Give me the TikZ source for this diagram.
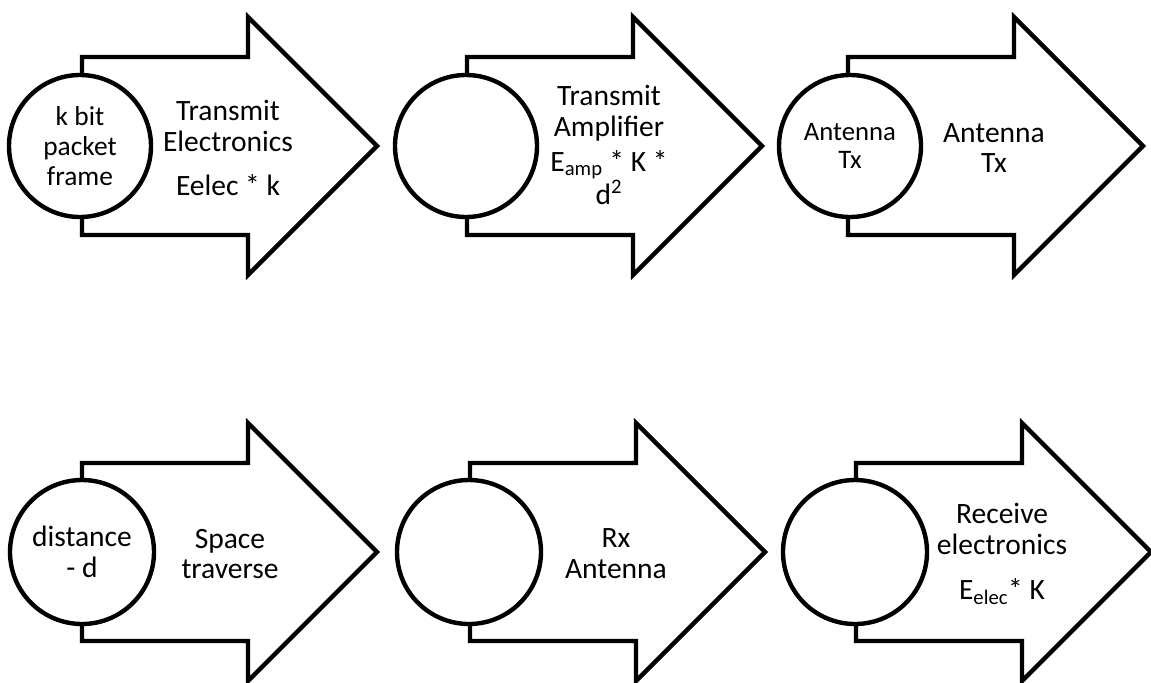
\documentclass[tikz,border=0pt]{standalone}
\usepackage{fontspec}
\setmainfont{Carlito}
\usetikzlibrary{positioning}

\begin{document}
\begin{tikzpicture}[x=0.25mm, y=-0.25mm, line width=1.1mm,
  flow/.style={draw, fill=white, line join=miter},
  ring/.style={draw, fill=white, circle, minimum size=35.5mm, inner sep=0pt,
    align=center, font=\fontsize{19.5}{21.5}\selectfont},
  txt/.style={align=center, font=\fontsize{21}{22}\selectfont}]

\useasboundingbox (0,0) rectangle (1151,682);

% Block arrows (tail at circle centre)
\foreach \x/\y in {82/146, 467/146, 848/146, 82/552, 470/552, 856/552}
  \draw[flow] (\x,\y) ++(0,-89) -- ++(166,0) -- ++(0,-40) -- ++(129,129)
    -- ++(-129,129) -- ++(0,-40) -- ++(-166,0) -- cycle;

% ============ TOP ROW: transmit side ============

% Transmit electronics
\node[ring] (packet) at (80,146) {k bit\\packet\\frame};
\node[txt] (txelec) at (228,148) {Transmit\\Electronics\\[3.5mm]Eelec * k};

% Transmit amplifier
\node[ring] (ampin) at (466,146) {};
\node[txt] (txamp) at (609,145)
  {Transmit\\Amplifier\\[1mm]E\textsubscript{amp} * K *\\d\textsuperscript{2}};

% Antenna Tx
\node[ring, font=\fontsize{19}{20.5}\selectfont] (antin) at (850,146) {Antenna\\Tx};
\node[txt] (txant) at (994,148) {Antenna\\Tx};

% ============ BOTTOM ROW: channel and receive side ============

% Space traverse
\node[ring, minimum size=36mm, font=\fontsize{21}{22}\selectfont] (dist) at (82,552)
  {distance\\- d};
\node[txt] (space) at (230,554) {Space\\traverse};

% Rx antenna
\node[ring, minimum size=36mm] (rxin) at (469,552) {};
\node[txt] (rxant) at (616,554) {Rx\\Antenna};

% Receive electronics
\node[ring, minimum size=36mm] (recvin) at (855,552) {};
\node[txt] (recv) at (1002,554)
  {Receive\\electronics\\[3.5mm]E\textsubscript{elec}* K};

\end{tikzpicture}
\end{document}
